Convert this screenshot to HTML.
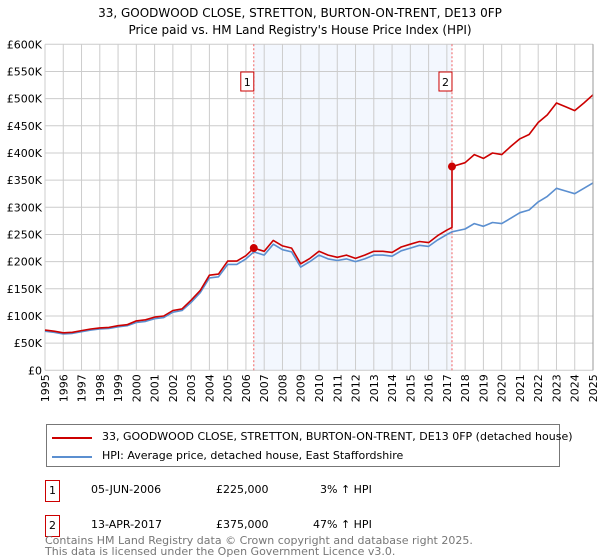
<!DOCTYPE html>
<html><head><meta charset="utf-8"><style>
body{margin:0;background:#fff;font-family:"DejaVu Sans","Liberation Sans",sans-serif;}
#wrap{position:relative;width:600px;height:560px;overflow:hidden}
.tb{position:absolute;white-space:nowrap;font-size:11px}
</style></head><body>
<div id="wrap">
<svg id="chart" width="600" height="560" font-family="DejaVu Sans, Liberation Sans, sans-serif">
<text x="300" y="17" text-anchor="middle" font-size="12">33, GOODWOOD CLOSE, STRETTON, BURTON-ON-TRENT, DE13 0FP</text>
<text x="300" y="34" text-anchor="middle" font-size="12">Price paid vs. HM Land Registry's House Price Index (HPI)</text>
<g id="grid"></g><g id="marks"></g><g id="axes"></g>
</svg>
<div style="position:absolute;left:46px;top:424px;width:512px;height:41px;border:1px solid #777;font-size:11px;white-space:nowrap;">
<div style="position:absolute;left:5px;top:12px;width:40px;height:2px;background:#cc0000"></div>
<div style="position:absolute;left:55px;top:5px;">33, GOODWOOD CLOSE, STRETTON, BURTON-ON-TRENT, DE13 0FP (detached house)</div>
<div style="position:absolute;left:5px;top:31px;width:40px;height:2px;background:#5b8fd0"></div>
<div style="position:absolute;left:55px;top:24px;">HPI: Average price, detached house, East Staffordshire</div>
</div>
<div>
<div class="tb" style="left:45px;top:480px;width:13px;height:20px;border:1px solid #cc0000;text-align:center;line-height:20px">1</div>
<div class="tb" style="left:91px;top:483px">05-JUN-2006</div>
<div class="tb" style="left:216px;top:483px">£225,000</div>
<div class="tb" style="left:320px;top:483px">3% ↑ HPI</div>
<div class="tb" style="left:45px;top:515px;width:13px;height:20px;border:1px solid #cc0000;text-align:center;line-height:20px">2</div>
<div class="tb" style="left:91px;top:518px">13-APR-2017</div>
<div class="tb" style="left:216px;top:518px">£375,000</div>
<div class="tb" style="left:313px;top:518px">47% ↑ HPI</div>
</div>
<div style="position:absolute;left:45px;top:535px;font-size:11px;color:#777;line-height:11px;white-space:nowrap">Contains HM Land Registry data © Crown copyright and database right 2025.<br>This data is licensed under the Open Government Licence v3.0.</div>
</div>
<script>
const hpiYears=[1995,1995.5,1996,1996.5,1997,1997.5,1998,1998.5,1999,1999.5,2000,2000.5,2001,2001.5,2002,2002.5,2003,2003.5,2004,2004.5,2005,2005.5,2006,2006.43,2007,2007.5,2008,2008.5,2009,2009.5,2010,2010.5,2011,2011.5,2012,2012.5,2013,2013.5,2014,2014.5,2015,2015.5,2016,2016.5,2017,2017.28,2018,2018.5,2019,2019.5,2020,2020.5,2021,2021.5,2022,2022.5,2023,2023.5,2024,2024.5,2025];
const hpiValues=[72,70,67,68,71,74,76,77,80,82,88,90,95,97,107,110,125,143,170,172,195,195,205,218,212,232,222,218,190,200,212,205,202,205,200,205,212,212,210,220,225,230,228,240,250,255,260,270,265,272,270,280,290,295,310,320,335,330,325,335,345];
const priceYears=[1995,1995.5,1996,1996.5,1997,1997.5,1998,1998.5,1999,1999.5,2000,2000.5,2001,2001.5,2002,2002.5,2003,2003.5,2004,2004.5,2005,2005.5,2006,2006.43,2007,2007.5,2008,2008.5,2009,2009.5,2010,2010.5,2011,2011.5,2012,2012.5,2013,2013.5,2014,2014.5,2015,2015.5,2016,2016.5,2017,2017.28,2017.28,2018,2018.5,2019,2019.5,2020,2020.5,2021,2021.5,2022,2022.5,2023,2023.5,2024,2024.5,2025];
const priceValues=[74,72,69,70,73,76,78,79,82,84,91,93,98,100,110,113,129,147,175,177,201,201,211,225,219,239,229,225,196,206,219,212,208,212,206,212,219,219,217,227,232,237,235,248,258,263,375,382,397,390,400,397,412,426,434,456,470,492,485,478,492,507];
const saleYears=[2006.43,2017.28];
const saleValues=[225,375];
const saleLabels=["1","2"];
const yTicks=[0,50,100,150,200,250,300,350,400,450,500,550,600];
const yTickLabels=["£0","£50K","£100K","£150K","£200K","£250K","£300K","£350K","£400K","£450K","£500K","£550K","£600K"];
const xTicks=[1995,1996,1997,1998,1999,2000,2001,2002,2003,2004,2005,2006,2007,2008,2009,2010,2011,2012,2013,2014,2015,2016,2017,2018,2019,2020,2021,2022,2023,2024,2025];

const L=45,R=593,T=44.3,B=370.3;
const X=y=>L+(y-1995)/30*(R-L);
const Y=v=>B-v/600*(B-T);
const NS="http://www.w3.org/2000/svg";
function mk(tag,attrs,parent){const e=document.createElementNS(NS,tag);for(const k in attrs)e.setAttribute(k,attrs[k]);parent.appendChild(e);return e;}
const grid=document.getElementById('grid'),marks=document.getElementById('marks'),axes=document.getElementById('axes');
const shade=mk('rect',{x:X(saleYears[0]),y:T,width:X(saleYears[1])-X(saleYears[0]),height:B-T,fill:'#eef3fd',opacity:0.7},grid);


yTicks.forEach((v,i)=>{
  mk('line',{x1:L,x2:R,y1:Y(v),y2:Y(v),stroke:'#ccc','stroke-width':1},grid);
  const t=mk('text',{x:L-3,y:Y(v)+4,'text-anchor':'end','font-size':11},axes);
  t.textContent=yTickLabels[i];
  
  
});
xTicks.forEach(yr=>{
  mk('line',{x1:X(yr),x2:X(yr),y1:T,y2:B,stroke:'#ccc','stroke-width':1},grid);
  const t=mk('text',{x:0,y:0,'text-anchor':'end','font-size':11,transform:`translate(${X(yr)+4},${B+4}) rotate(-90)`},axes);
  t.textContent=yr;
  
  
});
function line(xs,vs,color,name){
  const d=xs.map((x,i)=>(i?'L':'M')+X(x).toFixed(1)+','+Y(vs[i]).toFixed(1)).join('');
  const p=mk('path',{d:d,fill:'none',stroke:color,'stroke-width':1.6,'stroke-linejoin':'round'},marks);
  
  
}
saleYears.forEach((yr,i)=>{
  const l=mk('line',{x1:X(yr),x2:X(yr),y1:T,y2:B,stroke:'#f06060','stroke-width':1,'stroke-dasharray':'2,2'},marks);
  
  
});
line(hpiYears,hpiValues,'#5b8fd0','hpi-line');
line(priceYears,priceValues,'#cc0000','price-paid-line');
saleYears.forEach((yr,i)=>{
  const c=mk('circle',{cx:X(yr),cy:Y(saleValues[i]),r:4,fill:'#cc0000'},marks);
  
  
  const b=mk('rect',{x:X(yr)-13,y:72,width:13,height:19,fill:'#fff',stroke:'#cc0000'},marks);
  
  
  const t=mk('text',{x:X(yr)-6.5,y:86,'text-anchor':'middle','font-size':11},marks);
  t.textContent=saleLabels[i];
  
  
});
mk('line',{x1:R,x2:R,y1:T,y2:B,stroke:'#999','stroke-width':1},axes);
</script>
</body></html>
